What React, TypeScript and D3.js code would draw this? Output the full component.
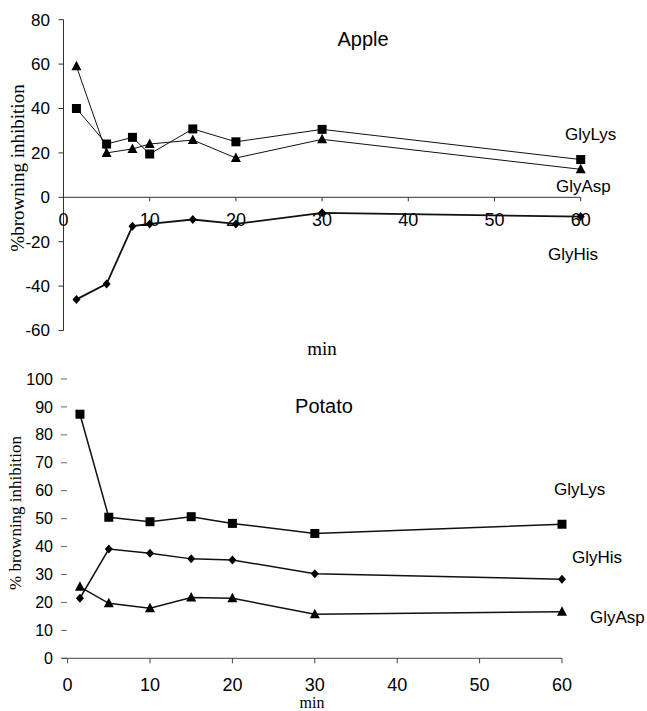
import React from "react";
import * as d3 from "d3";

const appleTimes = [1.5, 5, 8, 10, 15, 20, 30, 60];
const appleGlyLys = [40, 24, 27, 19.5, 30.8, 25, 30.6, 17];
const appleGlyAsp = [59, 20, 21.8, 24, 25.8, 17.7, 26.1, 12.6];
const appleGlyHis = [-46, -39, -13, -12, -10, -12, -7, -8.7];

const potatoTimes = [1.5, 5, 10, 15, 20, 30, 60];
const potatoGlyLys = [87.4, 50.5, 48.9, 50.7, 48.3, 44.7, 48.0];
const potatoGlyHis = [21.5, 39.1, 37.6, 35.6, 35.2, 30.3, 28.3];
const potatoGlyAsp = [25.6, 19.7, 17.9, 21.8, 21.5, 15.8, 16.7];

const xTicks = [0, 10, 20, 30, 40, 50, 60];
const appleYTicks = [-60, -40, -20, 0, 20, 40, 60, 80];
const potatoYTicks = [0, 10, 20, 30, 40, 50, 60, 70, 80, 90, 100];

const SANS = "'Liberation Sans', Arial, sans-serif";
const SERIF = "'Liberation Serif', 'Times New Roman', serif";

type Shape = "square" | "triangle" | "diamond";

function Marker({ shape, x, y }: { shape: Shape; x: number; y: number }) {
  if (shape === "square") return <rect x={x - 4.5} y={y - 4.5} width={9} height={9} fill="#000" />;
  if (shape === "triangle")
    return <path d={`M${x},${y - 5.5}L${x + 5},${y + 4}L${x - 5},${y + 4}Z`} fill="#000" />;
  return <path d={`M${x},${y - 4.5}L${x + 4},${y}L${x},${y + 4.5}L${x - 4},${y}Z`} fill="#000" />;
}

function Series({ xs, ys, x, y, shape, width }: any) {
  const line = d3.line<number>().x((_, i) => x(xs[i])).y((v) => y(v));
  return (
    <g>
      <path d={line(ys) || ""} fill="none" stroke="#111" strokeWidth={width} />
      {ys.map((v: number, i: number) => (
        <Marker key={i} shape={shape} x={x(xs[i])} y={y(v)} />
      ))}
    </g>
  );
}

export default function App() {
  // Apple chart
  const ax = d3.scaleLinear().domain([0, 60]).range([63.5, 580.7]);
  const ay = d3.scaleLinear().domain([-60, 80]).range([330.5, 19.7]);
  // Potato chart
  const px = d3.scaleLinear().domain([0, 60]).range([67.6, 562]);
  const py = d3.scaleLinear().domain([0, 100]).range([658.3, 379]);

  return (
    <svg width={647} height={711} style={{ position: "absolute", left: 0, top: 0, background: "#fff" }}>
      <rect width={647} height={711} fill="#fff" />
      {/* ---------- Apple ---------- */}
      <g>
        <line x1={ax(0)} x2={ax(0)} y1={ay(80)} y2={ay(-60)} stroke="#333" strokeWidth={1} />
        {appleYTicks.map((t) => (
          <g key={t}>
            <line x1={ax(0) - 5} x2={ax(0)} y1={ay(t)} y2={ay(t)} stroke="#333" />
            <text x={50} y={ay(t)} dy="0.35em" textAnchor="end" fontFamily={SANS} fontSize={17}>
              {t}
            </text>
          </g>
        ))}
        <line x1={ax(0)} x2={ax(60)} y1={ay(0)} y2={ay(0)} stroke="#333" />
        {xTicks.map((t) => (
          <g key={t}>
            <line x1={ax(t)} x2={ax(t)} y1={ay(0)} y2={ay(0) + 4} stroke="#333" />
            <text x={ax(t)} y={220} dy="0.35em" textAnchor="middle" fontFamily={SANS} fontSize={18}>
              {t}
            </text>
          </g>
        ))}
        <Series xs={appleTimes} ys={appleGlyLys} x={ax} y={ay} shape="square" width={1} />
        <Series xs={appleTimes} ys={appleGlyAsp} x={ax} y={ay} shape="triangle" width={1} />
        <Series xs={appleTimes} ys={appleGlyHis} x={ax} y={ay} shape="diamond" width={1.8} />
        <text x={363} y={46} textAnchor="middle" fontFamily={SANS} fontSize={20}>Apple</text>
        <text x={565} y={140} fontFamily={SANS} fontSize={17}>GlyLys</text>
        <text x={556} y={192} fontFamily={SANS} fontSize={17}>GlyAsp</text>
        <text x={548} y={260} fontFamily={SANS} fontSize={17}>GlyHis</text>
        <text x={322} y={355} textAnchor="middle" fontFamily={SERIF} fontSize={19}>min</text>
        <text
          transform="translate(24,168) rotate(-90)"
          textAnchor="middle"
          fontFamily={SERIF}
          fontSize={19}
        >
          %browning inhibition
        </text>
      </g>

      {/* ---------- Potato ---------- */}
      <g>
        {potatoYTicks.map((t) => (
          <g key={t}>
            <line x1={61} x2={67} y1={py(t)} y2={py(t)} stroke="#666" />
            <text x={53} y={py(t)} dy="0.35em" textAnchor="end" fontFamily={SANS} fontSize={16}>
              {t}
            </text>
          </g>
        ))}
        <line x1={62} x2={px(60)} y1={py(0)} y2={py(0)} stroke="#444" />
        {xTicks.map((t) => (
          <g key={t}>
            <line x1={px(t)} x2={px(t)} y1={py(0)} y2={py(0) + 5} stroke="#444" />
            <text x={px(t)} y={685} dy="0.35em" textAnchor="middle" fontFamily={SANS} fontSize={18}>
              {t}
            </text>
          </g>
        ))}
        <Series xs={potatoTimes} ys={potatoGlyLys} x={px} y={py} shape="square" width={1.5} />
        <Series xs={potatoTimes} ys={potatoGlyHis} x={px} y={py} shape="diamond" width={1.5} />
        <Series xs={potatoTimes} ys={potatoGlyAsp} x={px} y={py} shape="triangle" width={1.5} />
        <text x={324} y={413} textAnchor="middle" fontFamily={SANS} fontSize={20}>Potato</text>
        <text x={554} y={495} fontFamily={SANS} fontSize={17}>GlyLys</text>
        <text x={572} y={563} fontFamily={SANS} fontSize={17}>GlyHis</text>
        <text x={590} y={623} fontFamily={SANS} fontSize={17}>GlyAsp</text>
        <text x={312} y={708} textAnchor="middle" fontFamily={SERIF} fontSize={16}>min</text>
        <text
          transform="translate(21,513) rotate(-90)"
          textAnchor="middle"
          fontFamily={SERIF}
          fontSize={17}
        >
          % browning inhibition
        </text>
      </g>
    </svg>
  );
}
